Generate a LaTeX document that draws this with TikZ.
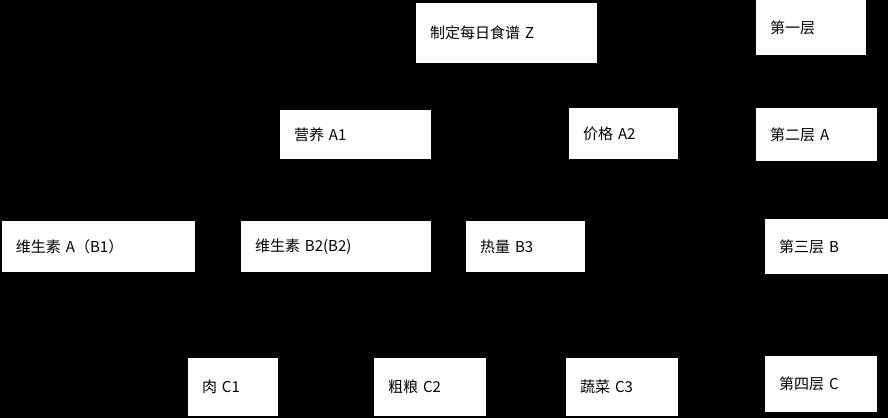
\documentclass[tikz,border=0pt]{standalone}
\usepackage{fontspec}
\setmainfont{Noto Sans CJK SC}
\tikzset{box/.style={fill=white, inner xsep=14pt, inner ysep=0pt, align=left, font=\fontsize{15}{17}\selectfont}}
% x1 y1 x2 y2 in pixels from top left
\newcommand{\bx}[6]{%
  \pgfmathsetmacro{\bw}{#4-#2}\pgfmathsetmacro{\bh}{#5-#3}\pgfmathsetmacro{\tw}{#4-#2-28}
  \node[box, minimum width=\bw pt, minimum height=\bh pt, text width=\tw pt]
    (#1) at ({(#2+#4)/2 pt}, {-(#3+#5)/2 pt}) {\raisebox{-3pt}{#6}};}
\begin{document}
\begin{tikzpicture}
    \fill[black] (0pt, 0pt) rectangle (888pt, -418pt);
    \bx{z}{416}{3}{597}{63}{制定每日食谱 Z}
    \bx{l1}{756}{0}{866}{55}{第一层}
    \bx{a1}{280}{110}{431}{159}{营养 A1}
    \bx{a2}{569}{108}{678}{159}{价格 A2}
    \bx{l2}{756}{108}{877}{161}{第二层 A}
    \bx{b1}{2}{221}{195}{272}{维生素 A（B1）}
    \bx{b2}{241}{221}{431}{272}{维生素 B2(B2)}
    \bx{b3}{466}{221}{585}{272}{热量 B3}
    \bx{l3}{765}{219}{888}{274}{第三层 B}
    \bx{c1}{188}{358}{278}{416}{肉 C1}
    \bx{c2}{374}{358}{486}{416}{粗粮 C2}
    \bx{c3}{566}{358}{678}{416}{蔬菜 C3}
    \bx{l4}{765}{356}{877}{412}{第四层 C}
\end{tikzpicture}
\end{document}
